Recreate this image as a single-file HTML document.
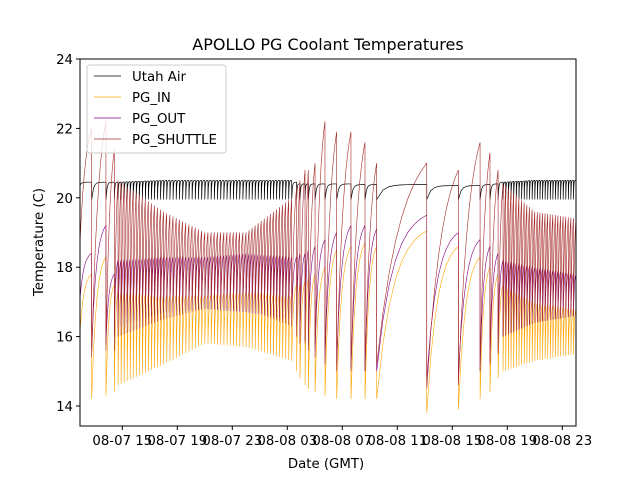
<!DOCTYPE html>
<html><head><meta charset="utf-8"><style>
body{margin:0;background:#fff}
svg{display:block;font-family:"DejaVu Sans","Liberation Sans",sans-serif}
</style></head><body>
<svg id="c" width="640" height="480" viewBox="0 0 640 480">
<defs><clipPath id="pc"><rect x="80" y="59" width="496" height="367"/></clipPath></defs>
<rect width="640" height="480" fill="#fff"/>
<text x="328" y="50" text-anchor="middle" font-size="16">APOLLO PG Coolant Temperatures</text>
<g id="series" clip-path="url(#pc)"></g>
<rect x="80" y="59" width="496" height="367" fill="none" stroke="#000" stroke-width="1"/>
<g id="yt"></g>
<g id="xt"></g>
<text x="326" y="468" text-anchor="middle" font-size="13.3">Date (GMT)</text>
<text transform="translate(43,242) rotate(-90)" text-anchor="middle" font-size="13.3">Temperature (C)</text>
<g>
<rect x="87" y="65" width="139" height="88" rx="3" fill="#fff" fill-opacity="0.8" stroke="#ccc"/>
<g><line x1="94" y1="76" x2="121" y2="76" stroke="#000" stroke-width="0.7"/><text x="132" y="81" font-size="13.3">Utah Air</text></g>
<g><line x1="94" y1="97" x2="121" y2="97" stroke="#FFA500" stroke-width="0.7"/><text x="132" y="102" font-size="13.3">PG_IN</text></g>
<g><line x1="94" y1="118" x2="121" y2="118" stroke="#800080" stroke-width="0.7"/><text x="132" y="123" font-size="13.3">PG_OUT</text></g>
<g><line x1="94" y1="139" x2="121" y2="139" stroke="#A52A2A" stroke-width="0.7"/><text x="132" y="144" font-size="13.3">PG_SHUTTLE</text></g>
</g>
</svg>
<script>
// times in hours from 08-07 00:00 (drop events / envelope keyframes)
const keyT=[11.9,12.77,13.81,14.42,14.69,18,21,24,27.32,27.68,27.92,28.29,28.53,29.02,29.74,30.59,31.63,32.65,33.50,37.14,39.44,41.02,41.74,42.33,42.69,45,48.0];
const cycles=[1,1,1,1,15,13,13,15,1,1,1,1,1,1,1,1,1,1,1,1,1,1,1,1,12,16];
const airHi=[20.35,20.45,20.45,20.45,20.45,20.5,20.5,20.5,20.5,20.45,20.4,20.4,20.4,20.4,20.4,20.4,20.4,20.38,20.38,20.38,20.35,20.35,20.38,20.4,20.45,20.5,20.5];
const airLo=[20.35,19.95,19.95,19.95,19.95,19.95,19.95,19.95,19.95,19.95,19.95,19.95,19.95,19.95,19.95,19.95,19.95,19.95,19.95,19.95,19.95,19.95,19.95,19.95,19.95,19.95,19.95];
const inHi=[16.0,17.8,18.3,17.5,17.3,17.2,17.2,17.3,17.2,17.5,17.5,17.6,17.7,17.8,18.0,18.5,18.6,18.7,18.6,19.05,18.6,18.3,18.0,17.8,17.5,17.0,16.8];
const inLo=[16.0,14.2,14.3,14.4,14.6,15.2,15.8,15.7,15.3,15.0,14.8,14.6,14.5,14.4,14.3,14.2,14.2,14.2,14.2,13.8,13.9,14.2,14.4,14.8,15.0,15.3,15.5];
const outHi=[17.0,18.4,19.2,17.8,18.2,18.3,18.3,18.4,18.3,18.3,18.4,18.4,18.5,18.6,18.8,19.0,19.2,19.2,19.1,19.5,19.0,18.8,18.6,18.4,18.2,18.0,17.8];
const outLo=[17.0,15.6,15.8,16.0,16.3,16.7,16.8,16.7,16.5,16.3,16.0,15.9,15.8,15.6,15.4,15.2,15.1,15.0,15.0,14.8,14.9,15.0,15.3,15.6,16.0,16.4,16.6];
const shHi=[18.5,22.0,22.2,21.4,20.5,19.6,19.0,19.0,20.0,20.3,20.5,20.8,20.8,21.0,22.2,21.9,21.9,21.6,21.0,21.0,20.8,21.6,21.3,20.8,20.4,19.6,19.4];
const shLo=[18.5,15.4,15.6,15.6,16.0,16.5,16.8,16.8,16.3,16.0,15.8,15.8,15.6,15.4,15.2,15.0,15.0,15.0,15.2,14.5,14.6,15.0,15.2,15.5,16.0,16.4,16.6];
const yTicks=[14,16,18,20,22,24];
const xTickT=[15,19,23,27,31,35,39,43,47];
const xTickLabels=["08-07 15","08-07 19","08-07 23","08-08 03","08-08 07","08-08 11","08-08 15","08-08 19","08-08 23"];

const X=t=>122.3+(t-15)*13.75;
const Y=v=>406-(v-14)*34.7;
const NS="http://www.w3.org/2000/svg";

function build(hi,lo,k){
  let d="";
  for(let i=0;i<keyT.length-1;i++){
    const n=cycles[i],t0=keyT[i],t1=keyT[i+1];
    for(let j=0;j<n;j++){
      const a=t0+(t1-t0)*j/n,b=t0+(t1-t0)*(j+1)/n;
      const fa=j/n,fb=(j+1)/n;
      const l=lo[i]+(lo[i+1]-lo[i])*fa;
      const h=hi[i]+(hi[i+1]-hi[i])*fb;
      const steps=8;
      for(let s=0;s<=steps;s++){
        const u=s/steps;
        const f=(1-Math.exp(-k*u))/(1-Math.exp(-k));
        const v=l+(h-l)*f;
        d+=(d===""?"M":"L")+X(a+(b-a)*u).toFixed(2)+" "+Y(v).toFixed(2);
      }
    }
  }
  return d;
}
const g=document.getElementById("series");
function addLine(d,color,name,w){
  const p=document.createElementNS(NS,"path");
  p.setAttribute("d",d);p.setAttribute("fill","none");
  p.setAttribute("stroke",color);p.setAttribute("stroke-width",w);
  
  
  g.appendChild(p);
}
addLine(build(airHi,airLo,8),"#000","series-utah-air",0.7);
addLine(build(inHi,inLo,3),"#FFA500","series-pg-in",0.6);
addLine(build(outHi,outLo,3),"#800080","series-pg-out",0.6);
addLine(build(shHi,shLo,2),"#A52A2A","series-pg-shuttle",0.6);

const yt=document.getElementById("yt");
yTicks.forEach(v=>{
  const l=document.createElementNS(NS,"line");
  l.setAttribute("x1",76);l.setAttribute("x2",80);l.setAttribute("y1",Y(v));l.setAttribute("y2",Y(v));l.setAttribute("stroke","#000");
  
  
  yt.appendChild(l);
  const t=document.createElementNS(NS,"text");
  t.setAttribute("x",73);t.setAttribute("y",Y(v)+5);t.setAttribute("text-anchor","end");t.setAttribute("font-size","13.3");
  t.textContent=v;
  
  
  yt.appendChild(t);
});
const xt=document.getElementById("xt");
xTickT.forEach((tv,i)=>{
  const l=document.createElementNS(NS,"line");
  l.setAttribute("x1",X(tv));l.setAttribute("x2",X(tv));l.setAttribute("y1",426);l.setAttribute("y2",430);l.setAttribute("stroke","#000");
  
  
  xt.appendChild(l);
  const t=document.createElementNS(NS,"text");
  t.setAttribute("x",X(tv));t.setAttribute("y",445);t.setAttribute("text-anchor","middle");t.setAttribute("font-size","13.3");
  t.textContent=xTickLabels[i];
  
  
  xt.appendChild(t);
});
</script>
</body></html>
